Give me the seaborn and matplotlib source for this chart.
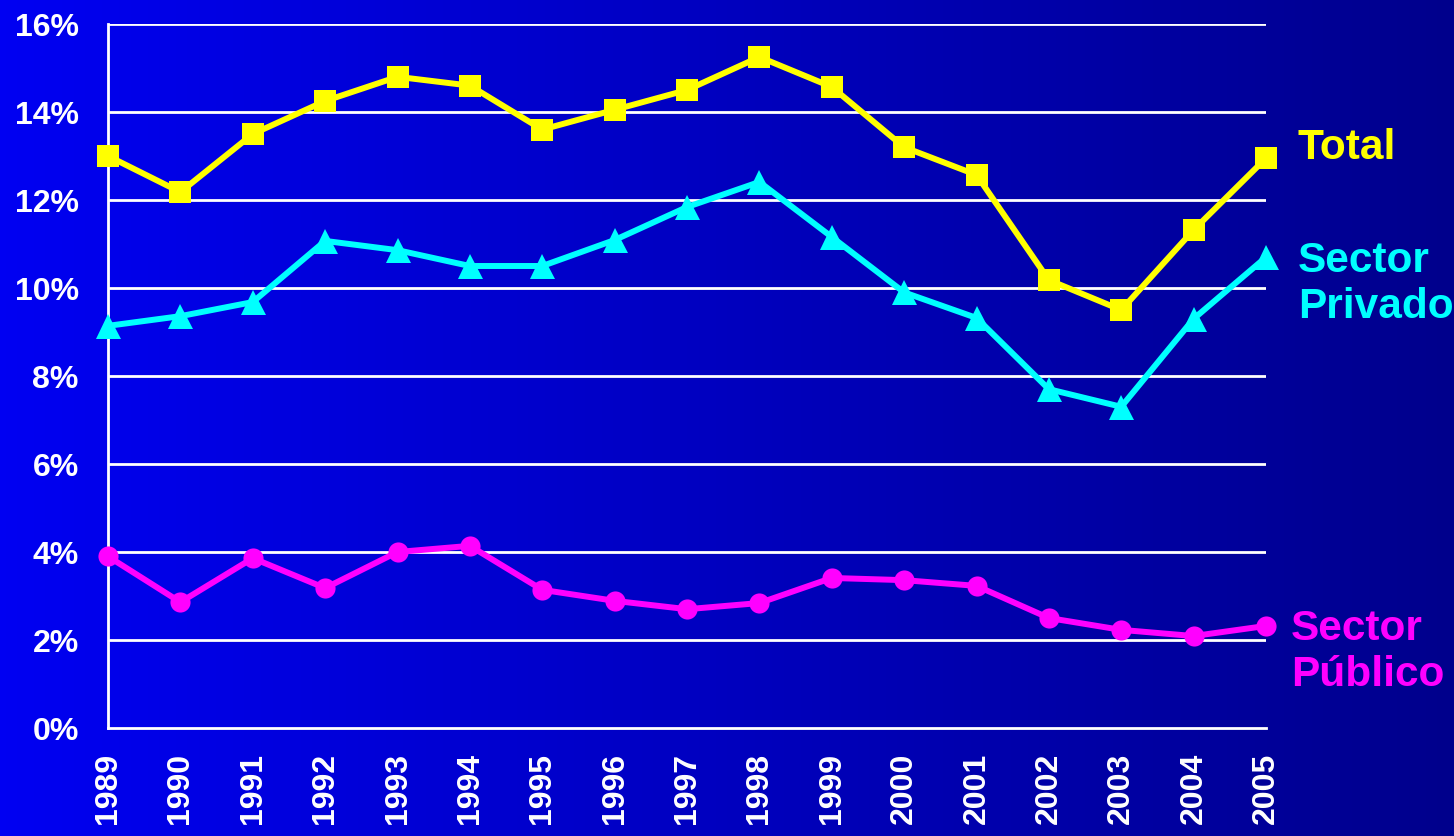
import numpy as np
import pandas as pd
import matplotlib
matplotlib.use('Agg')
import matplotlib.pyplot as plt
import seaborn as sns
from matplotlib.colors import LinearSegmentedColormap

# Data
years = list(range(1989, 2006))
total = [13.0, 12.18, 13.5, 14.25, 14.8, 14.6, 13.6, 14.05, 14.5, 15.25,
         14.57, 13.2, 12.57, 10.18, 9.5, 11.32, 12.95]
privado = [9.14, 9.36, 9.68, 11.07, 10.86, 10.5, 10.5, 11.09, 11.84, 12.41,
           11.16, 9.9, 9.32, 7.7, 7.3, 9.3, 10.7]
publico = [3.9, 2.86, 3.86, 3.18, 4.0, 4.14, 3.14, 2.89, 2.7, 2.84,
           3.41, 3.36, 3.23, 2.5, 2.23, 2.09, 2.32]
series_names = ['Total', 'Sector\nPrivado', 'Sector\nPúblico']
yticks = [0, 2, 4, 6, 8, 10, 12, 14, 16]

colors = ['#FFFF00', '#00FFFF', '#FF00FF']
markers = ['s', '^', 'o']
msizes = [16, 18, 14.5]

df = pd.DataFrame({'year': years, 'Total': total,
                   'Sector\nPrivado': privado, 'Sector\nPúblico': publico})

sns.set_style('white')
plt.rcParams['font.family'] = ['Liberation Sans', 'DejaVu Sans']
plt.rcParams['font.weight'] = 'bold'

fig = plt.figure(figsize=(14.54, 8.37), dpi=100)

# background gradient
bg = fig.add_axes([0, 0, 1, 1], zorder=0)
cmap = LinearSegmentedColormap.from_list('bg', ['#0000F2', '#00008C'])
grad = np.linspace(0, 1, 256).reshape(1, -1)
bg.imshow(grad, aspect='auto', cmap=cmap, extent=[0, 1, 0, 1])
bg.set_axis_off()

ax = fig.add_axes([108 / 1454, 1 - 729 / 837, (1266 - 108) / 1454, (729 - 25) / 837], zorder=1)
ax.patch.set_alpha(0)

for name, c, m, ms in zip(series_names, colors, markers, msizes):
    sns.lineplot(data=df, x='year', y=name, ax=ax, color=c, marker=m,
                 markersize=ms, linewidth=4.3, markeredgewidth=0, zorder=3,
                 clip_on=False)

ax.set_xlim(1989, 2005)
ax.set_ylim(0, 16)
ax.set_yticks(yticks)
ax.set_yticklabels([f'{v}%' for v in yticks])
ax.set_xticks(years)
ax.set_xticklabels([str(y) for y in years], rotation=90)
ax.set_xlabel('')
ax.set_ylabel('')

for v in yticks[1:]:
    ax.axhline(v, color='white', linewidth=2, zorder=1)

for s in ['top', 'right']:
    ax.spines[s].set_visible(False)
for s in ['left', 'bottom']:
    ax.spines[s].set_color('white')
    ax.spines[s].set_linewidth(2)

ax.tick_params(axis='both', colors='white', length=7, width=1.5, direction='out',
               labelsize=23)
ax.tick_params(axis='x', pad=10)
ax.tick_params(axis='y', pad=14)
for lbl in ax.get_xticklabels() + ax.get_yticklabels():
    lbl.set_fontweight('bold')

# series labels at right
label_pos = [(1297, 148), (1298, 284), (1291, 652)]
for name, c, (px, py) in zip(series_names, colors, label_pos):
    fig.text(px / 1454, 1 - py / 837, name, color=c, fontsize=30.5,
             fontweight='bold', va='center', ha='left', linespacing=1.22)

fig.savefig('out.png', dpi=100)
